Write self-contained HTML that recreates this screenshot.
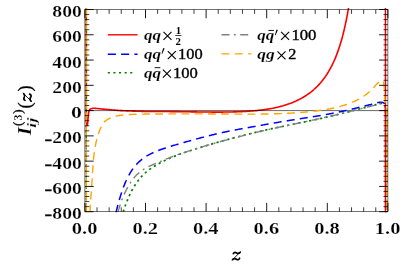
<!DOCTYPE html><html><head><meta charset="utf-8"><style>html,body{margin:0;padding:0;background:#fff}svg{display:block;will-change:transform}</style></head><body><svg width="407" height="269" viewBox="0 0 407 269">
<rect width="407" height="269" fill="#fff"/>
<defs><clipPath id="c"><rect x="84.30000000000001" y="8.1" width="304.2" height="204.2"/></clipPath></defs>
<g clip-path="url(#c)" fill="none" stroke-linejoin="round">
<path d="M86.30,4.00 L86.30,4.80 L86.30,5.60 L86.30,6.40 L86.30,7.20 L86.30,7.99 L86.30,8.79 L86.30,9.59 L86.30,10.39 L86.30,11.19 L86.30,11.99 L86.30,12.79 L86.30,13.59 L86.30,14.38 L86.30,15.18 L86.30,15.98 L86.30,16.78 L86.30,17.58 L86.30,18.38 L86.30,19.18 L86.30,19.98 L86.30,20.77 L86.30,21.57 L86.30,22.37 L86.30,23.17 L86.30,23.97 L86.30,24.77 L86.30,25.57 L86.30,26.37 L86.30,27.16 L86.30,27.96 L86.30,28.76 L86.30,29.56 L86.30,30.36 L86.30,31.16 L86.30,31.96 L86.30,32.76 L86.30,33.55 L86.30,34.35 L86.30,35.15 L86.30,35.95 L86.30,36.75 L86.30,37.55 L86.30,38.35 L86.30,39.15 L86.30,39.94 L86.30,40.74 L86.30,41.54 L86.30,42.34 L86.30,43.14 L86.30,43.94 L86.30,44.74 L86.30,45.54 L86.30,46.34 L86.30,47.13 L86.30,47.93 L86.30,48.73 L86.30,49.53 L86.30,50.33 L86.30,51.13 L86.30,51.93 L86.30,52.73 L86.30,53.52 L86.30,54.32 L86.30,55.12 L86.30,55.92 L86.30,56.72 L86.30,57.52 L86.30,58.32 L86.30,59.12 L86.30,59.91 L86.30,60.71 L86.30,61.51 L86.30,62.31 L86.30,63.11 L86.30,63.91 L86.30,64.71 L86.30,65.51 L86.30,66.30 L86.30,67.10 L86.30,67.90 L86.30,68.70 L86.30,69.50 L86.30,70.30 L86.30,71.10 L86.30,71.90 L86.30,72.69 L86.30,73.49 L86.30,74.29 L86.30,75.09 L86.30,75.89 L86.30,76.69 L86.30,77.49 L86.30,78.29 L86.30,79.08 L86.30,79.88 L86.30,80.68 L86.30,81.48 L86.30,82.28 L86.30,83.08 L86.30,83.88 L86.30,84.68 L86.30,85.48 L86.30,86.27 L86.30,87.07 L86.30,87.87 L86.30,88.67 L86.30,89.47 L86.30,90.27 L86.30,91.07 L86.30,91.87 L86.30,92.66 L86.30,93.46 L86.30,94.26 L86.30,95.06 L86.30,95.86 L86.30,96.66 L86.30,97.46 L86.30,98.26 L86.30,99.05 L86.30,99.85 L86.30,100.65 L86.30,101.45 L86.30,102.25 L86.30,103.05 L86.30,103.85 L86.30,104.65 L86.30,105.44 L86.30,106.24 L86.30,107.04 L86.30,107.84 L86.30,108.64 L86.30,109.44 L86.30,110.24 L86.30,111.04 L86.30,111.83 L86.30,112.63 L86.31,113.43 L86.31,114.23 L86.32,115.03 L86.32,115.83 L86.33,116.63 L86.33,117.43 L86.34,118.22 L86.35,119.02 L86.37,119.82 L86.40,120.62 L86.44,121.42 L86.49,122.22 L86.55,123.01 L86.62,123.97 L86.73,124.97 L86.89,125.56 L87.32,125.17 L87.52,124.43 L87.62,123.64 L87.68,122.81 L87.75,122.00 L87.82,121.20 L87.88,120.41 L87.95,119.61 L88.02,118.81 L88.09,118.02 L88.17,117.22 L88.26,116.43 L88.33,115.64 L88.40,114.84 L88.48,114.04 L88.57,113.25 L88.69,112.45 L88.85,111.65 L89.06,110.88 L89.36,110.17 L89.87,109.48 L90.49,109.01 L91.17,108.75 L91.95,108.53 L92.78,108.38 L93.61,108.30 L94.40,108.31 L95.19,108.34 L95.99,108.40 L96.78,108.47 L97.58,108.56 L98.38,108.64 L99.18,108.72 L99.98,108.80 L100.77,108.87 L101.57,108.94 L102.36,109.01 L103.16,109.08 L103.95,109.15 L104.75,109.22 L105.55,109.30 L106.34,109.37 L107.14,109.44 L107.93,109.51 L108.73,109.59 L109.52,109.66 L110.32,109.73 L111.11,109.80 L111.91,109.87 L112.71,109.95 L113.50,110.02 L114.30,110.10 L115.09,110.17 L115.89,110.24 L116.68,110.31 L117.48,110.37 L118.28,110.43 L119.07,110.49 L119.87,110.53 L120.67,110.58 L121.46,110.62 L122.26,110.67 L123.06,110.71 L123.86,110.75 L124.66,110.78 L125.45,110.82 L126.25,110.85 L127.05,110.89 L127.85,110.92 L128.65,110.95 L129.44,110.98 L130.24,111.01 L131.04,111.04 L131.84,111.06 L132.64,111.09 L133.44,111.12 L134.23,111.14 L135.03,111.16 L135.83,111.19 L136.63,111.21 L137.43,111.23 L138.23,111.25 L139.03,111.27 L139.82,111.30 L140.62,111.32 L141.42,111.34 L142.22,111.36 L143.02,111.39 L143.82,111.41 L144.62,111.43 L145.41,111.46 L146.21,111.48 L147.01,111.49 L147.81,111.51 L148.61,111.52 L149.41,111.52 L150.21,111.52 L151.00,111.52 L151.80,111.52 L152.60,111.51 L153.40,111.51 L154.20,111.51 L155.00,111.51 L155.80,111.51 L156.60,111.51 L157.39,111.51 L158.19,111.51 L158.99,111.51 L159.79,111.51 L160.59,111.52 L161.39,111.52 L162.19,111.52 L162.99,111.53 L163.78,111.53 L164.58,111.53 L165.38,111.54 L166.18,111.54 L166.98,111.55 L167.78,111.56 L168.58,111.56 L169.38,111.57 L170.17,111.58 L170.97,111.58 L171.77,111.59 L172.57,111.60 L173.37,111.61 L174.17,111.62 L174.97,111.62 L175.77,111.63 L176.56,111.64 L177.36,111.65 L178.16,111.66 L178.96,111.67 L179.76,111.68 L180.56,111.69 L181.36,111.70 L182.16,111.71 L182.95,111.72 L183.75,111.74 L184.55,111.75 L185.35,111.76 L186.15,111.77 L186.95,111.78 L187.75,111.79 L188.54,111.80 L189.34,111.81 L190.14,111.82 L190.94,111.84 L191.74,111.85 L192.54,111.86 L193.34,111.87 L194.14,111.88 L194.93,111.89 L195.73,111.90 L196.53,111.91 L197.33,111.93 L198.13,111.94 L198.93,111.95 L199.73,111.96 L200.53,111.97 L201.32,111.98 L202.12,111.99 L202.92,112.00 L203.72,112.00 L204.52,112.01 L205.32,112.02 L206.12,112.03 L206.92,112.04 L207.71,112.05 L208.51,112.05 L209.31,112.06 L210.11,112.06 L210.91,112.07 L211.71,112.08 L212.51,112.08 L213.31,112.08 L214.10,112.09 L214.90,112.09 L215.70,112.09 L216.50,112.09 L217.30,112.09 L218.10,112.09 L218.90,112.09 L219.70,112.09 L220.49,112.09 L221.29,112.09 L222.09,112.08 L222.89,112.08 L223.69,112.07 L224.49,112.07 L225.29,112.06 L226.09,112.05 L226.88,112.04 L227.68,112.03 L228.48,112.02 L229.28,112.00 L230.08,111.99 L230.88,111.97 L231.68,111.96 L232.47,111.94 L233.27,111.92 L234.07,111.90 L234.87,111.88 L235.67,111.85 L236.47,111.83 L237.27,111.80 L238.06,111.77 L238.86,111.74 L239.66,111.71 L240.46,111.68 L241.26,111.64 L242.05,111.61 L242.85,111.57 L243.65,111.53 L244.45,111.49 L245.24,111.44 L246.04,111.40 L246.84,111.35 L247.64,111.30 L248.43,111.24 L249.23,111.19 L250.03,111.13 L250.82,111.07 L251.62,111.01 L252.42,110.95 L253.21,110.88 L254.01,110.81 L254.80,110.74 L255.60,110.66 L256.39,110.58 L257.19,110.50 L257.98,110.42 L258.78,110.33 L259.57,110.24 L260.36,110.15 L261.16,110.06 L261.95,109.96 L262.74,109.85 L263.53,109.75 L264.32,109.64 L265.12,109.53 L265.91,109.41 L266.70,109.29 L267.48,109.16 L268.27,109.04 L269.06,108.90 L269.85,108.77 L270.63,108.63 L271.42,108.48 L272.20,108.34 L272.99,108.18 L273.77,108.03 L274.55,107.86 L275.34,107.70 L276.12,107.53 L276.89,107.35 L277.67,107.17 L278.45,106.98 L279.23,106.79 L280.00,106.60 L280.77,106.39 L281.54,106.19 L282.31,105.97 L283.08,105.76 L283.85,105.53 L284.61,105.30 L285.38,105.07 L286.14,104.83 L286.90,104.58 L287.66,104.33 L288.41,104.07 L289.17,103.80 L289.92,103.53 L290.66,103.25 L291.41,102.97 L292.15,102.67 L292.90,102.38 L293.63,102.07 L294.37,101.76 L295.10,101.44 L295.83,101.11 L296.56,100.78 L297.28,100.44 L298.00,100.09 L298.71,99.74 L299.43,99.37 L300.13,99.01 L300.84,98.63 L301.54,98.24 L302.23,97.85 L302.93,97.45 L303.61,97.05 L304.30,96.63 L304.98,96.21 L305.65,95.78 L306.32,95.34 L306.98,94.90 L307.64,94.45 L308.29,93.99 L308.94,93.52 L309.58,93.04 L310.22,92.56 L310.85,92.07 L311.48,91.58 L312.10,91.07 L312.71,90.56 L313.32,90.04 L313.92,89.52 L314.51,88.98 L315.10,88.44 L315.69,87.90 L316.26,87.34 L316.83,86.78 L317.40,86.22 L317.95,85.64 L318.50,85.07 L319.05,84.48 L319.58,83.89 L320.11,83.29 L320.64,82.69 L321.15,82.08 L321.66,81.46 L322.17,80.84 L322.66,80.22 L323.15,79.59 L323.64,78.95 L324.11,78.31 L324.58,77.67 L325.05,77.01 L325.51,76.36 L325.96,75.70 L326.40,75.04 L326.84,74.37 L327.27,73.70 L327.70,73.02 L328.11,72.34 L328.53,71.66 L328.93,70.97 L329.33,70.28 L329.73,69.58 L330.12,68.88 L330.50,68.18 L330.88,67.48 L331.25,66.77 L331.62,66.06 L331.98,65.35 L332.33,64.63 L332.68,63.92 L333.03,63.20 L333.37,62.47 L333.70,61.75 L334.03,61.02 L334.35,60.29 L334.67,59.56 L334.99,58.82 L335.30,58.09 L335.61,57.35 L335.91,56.61 L336.20,55.87 L336.49,55.12 L336.78,54.38 L337.07,53.63 L337.35,52.88 L337.62,52.13 L337.89,51.38 L338.16,50.63 L338.42,49.88 L338.68,49.12 L338.94,48.36 L339.19,47.61 L339.44,46.85 L339.69,46.09 L339.93,45.32 L340.17,44.56 L340.40,43.80 L340.63,43.03 L340.86,42.27 L341.09,41.50 L341.31,40.74 L341.53,39.97 L341.75,39.20 L341.96,38.43 L342.17,37.66 L342.38,36.89 L342.58,36.12 L342.79,35.34 L342.99,34.57 L343.18,33.79 L343.38,33.02 L343.57,32.24 L343.76,31.47 L343.95,30.69 L344.13,29.92 L344.31,29.14 L344.49,28.36 L344.67,27.58 L344.85,26.80 L345.02,26.02 L345.20,25.24 L345.36,24.46 L345.53,23.68 L345.70,22.90 L345.86,22.12 L346.02,21.33 L346.18,20.55 L346.34,19.77 L346.50,18.99 L346.65,18.20 L346.80,17.42 L346.95,16.63 L347.10,15.85 L347.25,15.06 L347.40,14.28 L347.54,13.49 L347.68,12.71 L347.82,11.92 L347.96,11.13 L348.10,10.35 L348.24,9.56 L348.37,8.77 L348.50,7.99 L348.64,7.20 L348.77,6.41 L348.90,5.62 L349.03,4.83 L349.15,4.04 L349.28,3.26 L349.40,2.47 L349.53,1.68 L349.65,0.89 L349.77,0.10 L349.88,-0.69 L350.00,-1.48" stroke="#ff0000" stroke-width="1.6"/>
<path d="M84.9,110.60H387.9" stroke="#000" stroke-width="0.6"/>
<path d="M115.59,214.45 L115.77,213.67 L115.95,212.89 L116.13,212.12 L116.32,211.34 L116.50,210.56 L116.69,209.79 L116.88,209.01 L117.07,208.24 L117.27,207.46 L117.47,206.69 L117.66,205.91 L117.87,205.14 L118.07,204.37 L118.28,203.60 L118.48,202.82 L118.69,202.05 L118.91,201.28 L119.12,200.52 L119.34,199.75 L119.57,198.98 L119.79,198.21 L120.02,197.45 L120.25,196.68 L120.48,195.92 L120.72,195.16 L120.96,194.40 L121.21,193.64 L121.46,192.88 L121.71,192.12 L121.97,191.36 L122.23,190.61 L122.49,189.85 L122.76,189.10 L123.03,188.35 L123.31,187.60 L123.59,186.85 L123.88,186.11 L124.17,185.36 L124.47,184.62 L124.77,183.88 L125.08,183.15 L125.39,182.41 L125.71,181.68 L126.04,180.95 L126.37,180.22 L126.71,179.50 L127.05,178.78 L127.40,178.06 L127.76,177.35 L128.13,176.64 L128.50,175.93 L128.88,175.23 L129.27,174.53 L129.66,173.83 L130.07,173.15 L130.48,172.46 L130.90,171.78 L131.33,171.11 L131.77,170.44 L132.22,169.78 L132.68,169.13 L133.15,168.48 L133.62,167.84 L134.11,167.21 L134.61,166.58 L135.12,165.96 L135.63,165.35 L136.16,164.75 L136.70,164.16 L137.25,163.58 L137.80,163.01 L138.37,162.45 L138.95,161.90 L139.54,161.36 L140.13,160.83 L140.74,160.31 L141.36,159.80 L141.98,159.30 L142.61,158.81 L143.26,158.34 L143.91,157.87 L144.56,157.42 L145.23,156.98 L145.90,156.54 L146.58,156.12 L147.27,155.71 L147.96,155.31 L148.65,154.92 L149.36,154.54 L150.06,154.17 L150.77,153.81 L151.49,153.45 L152.21,153.11 L152.94,152.77 L153.66,152.44 L154.39,152.12 L155.13,151.80 L155.86,151.49 L156.60,151.19 L157.35,150.89 L158.09,150.60 L158.84,150.32 L159.58,150.04 L160.33,149.76 L161.08,149.49 L161.84,149.22 L162.59,148.96 L163.35,148.70 L164.10,148.44 L164.86,148.19 L165.62,147.94 L166.38,147.69 L167.14,147.44 L167.90,147.20 L168.66,146.96 L169.42,146.72 L170.19,146.48 L170.95,146.25 L171.71,146.02 L172.48,145.78 L173.24,145.55 L174.01,145.32 L174.77,145.10 L175.54,144.87 L176.31,144.64 L177.07,144.42 L177.84,144.20 L178.61,143.97 L179.37,143.75 L180.14,143.53 L180.91,143.31 L181.68,143.09 L182.45,142.87 L183.21,142.65 L183.98,142.43 L184.75,142.22 L185.52,142.00 L186.29,141.78 L187.06,141.57 L187.83,141.35 L188.60,141.14 L189.37,140.92 L190.14,140.71 L190.91,140.50 L191.68,140.29 L192.45,140.07 L193.22,139.86 L193.99,139.65 L194.76,139.44 L195.53,139.23 L196.30,139.02 L197.07,138.82 L197.84,138.61 L198.61,138.40 L199.39,138.20 L200.16,137.99 L200.93,137.79 L201.70,137.58 L202.47,137.38 L203.25,137.18 L204.02,136.98 L204.79,136.78 L205.57,136.58 L206.34,136.38 L207.12,136.18 L207.89,135.99 L208.66,135.79 L209.44,135.60 L210.22,135.41 L210.99,135.21 L211.77,135.02 L212.54,134.83 L213.32,134.65 L214.10,134.46 L214.87,134.28 L215.65,134.09 L216.43,133.91 L217.21,133.73 L217.98,133.55 L218.76,133.37 L219.54,133.19 L220.32,133.02 L221.10,132.84 L221.88,132.67 L222.66,132.50 L223.44,132.33 L224.22,132.16 L225.00,132.00 L225.79,131.83 L226.57,131.67 L227.35,131.50 L228.13,131.34 L228.91,131.18 L229.70,131.03 L230.48,130.87 L231.26,130.71 L232.05,130.56 L232.83,130.41 L233.62,130.25 L234.40,130.10 L235.19,129.95 L235.97,129.81 L236.76,129.66 L237.54,129.51 L238.33,129.37 L239.11,129.22 L239.90,129.08 L240.68,128.93 L241.47,128.79 L242.26,128.65 L243.04,128.51 L243.83,128.37 L244.61,128.23 L245.40,128.09 L246.19,127.95 L246.97,127.81 L247.76,127.67 L248.55,127.53 L249.33,127.39 L250.12,127.25 L250.91,127.11 L251.69,126.97 L252.48,126.83 L253.27,126.70 L254.05,126.56 L254.84,126.42 L255.63,126.28 L256.41,126.14 L257.20,126.00 L257.99,125.86 L258.77,125.72 L259.56,125.58 L260.35,125.44 L261.13,125.30 L261.92,125.16 L262.71,125.02 L263.49,124.88 L264.28,124.74 L265.07,124.60 L265.85,124.46 L266.64,124.32 L267.42,124.18 L268.21,124.05 L269.00,123.91 L269.78,123.77 L270.57,123.63 L271.36,123.49 L272.14,123.35 L272.93,123.21 L273.72,123.07 L274.51,122.94 L275.29,122.80 L276.08,122.66 L276.87,122.53 L277.65,122.39 L278.44,122.26 L279.23,122.12 L280.02,121.99 L280.80,121.86 L281.59,121.72 L282.38,121.59 L283.17,121.46 L283.96,121.33 L284.74,121.20 L285.53,121.07 L286.32,120.94 L287.11,120.81 L287.90,120.68 L288.69,120.56 L289.47,120.43 L290.26,120.30 L291.05,120.18 L291.84,120.05 L292.63,119.93 L293.42,119.80 L294.21,119.68 L295.00,119.55 L295.79,119.43 L296.58,119.31 L297.36,119.19 L298.15,119.06 L298.94,118.94 L299.73,118.82 L300.52,118.70 L301.31,118.57 L302.10,118.45 L302.89,118.33 L303.68,118.21 L304.47,118.08 L305.26,117.96 L306.05,117.84 L306.84,117.72 L307.63,117.59 L308.42,117.47 L309.20,117.34 L309.99,117.22 L310.78,117.10 L311.57,116.97 L312.36,116.84 L313.15,116.72 L313.94,116.59 L314.73,116.46 L315.51,116.33 L316.30,116.20 L317.09,116.07 L317.88,115.94 L318.67,115.81 L319.45,115.68 L320.24,115.55 L321.03,115.41 L321.82,115.28 L322.60,115.14 L323.39,115.00 L324.18,114.86 L324.96,114.72 L325.75,114.58 L326.54,114.44 L327.32,114.30 L328.11,114.15 L328.89,114.01 L329.68,113.86 L330.46,113.72 L331.25,113.57 L332.03,113.42 L332.82,113.26 L333.60,113.11 L334.39,112.96 L335.17,112.80 L335.95,112.64 L336.74,112.49 L337.52,112.33 L338.30,112.17 L339.08,112.00 L339.86,111.84 L340.65,111.67 L341.43,111.51 L342.21,111.34 L342.99,111.17 L343.77,111.00 L344.55,110.83 L345.33,110.65 L346.11,110.48 L346.89,110.30 L347.67,110.12 L348.44,109.95 L349.22,109.77 L350.00,109.58 L350.78,109.40 L351.56,109.22 L352.33,109.03 L353.11,108.85 L353.89,108.66 L354.66,108.47 L355.44,108.28 L356.21,108.09 L356.99,107.90 L357.77,107.71 L358.54,107.51 L359.32,107.32 L360.09,107.13 L360.87,106.93 L361.64,106.74 L362.42,106.54 L363.19,106.35 L363.97,106.16 L364.74,105.96 L365.52,105.77 L366.29,105.58 L367.07,105.39 L367.84,105.20 L368.62,105.01 L369.40,104.83 L370.18,104.65 L370.95,104.46 L371.72,104.24 L372.49,104.01 L373.25,103.76 L374.01,103.52 L374.78,103.28 L375.55,103.06 L376.32,102.87 L377.10,102.70 L377.88,102.55 L378.67,102.39 L379.46,102.27 L380.26,102.20 L381.06,102.22 L381.87,102.33 L382.65,102.50 L383.38,102.76 L384.07,103.24 L384.51,103.83 L384.84,104.57 L385.09,105.37 L385.22,106.17 L385.31,106.95 L385.39,107.74 L385.46,108.54 L385.51,109.34 L385.56,110.14 L385.58,110.95 L385.60,111.75 L385.60,112.55 L385.60,113.35 L385.61,114.14 L385.61,114.94 L385.61,115.74 L385.61,116.54 L385.61,117.34 L385.62,118.13 L385.62,118.93 L385.62,119.73 L385.62,120.53 L385.62,121.32 L385.63,122.12 L385.63,122.92 L385.63,123.72 L385.63,124.52 L385.63,125.31 L385.63,126.11 L385.64,126.91 L385.64,127.71 L385.64,128.51 L385.64,129.30 L385.64,130.10 L385.64,130.90 L385.64,131.70 L385.65,132.50 L385.65,133.29 L385.65,134.09 L385.65,134.89 L385.65,135.69 L385.65,136.49 L385.65,137.28 L385.66,138.08 L385.66,138.88 L385.66,139.68 L385.66,140.48 L385.66,141.27 L385.66,142.07 L385.66,142.87 L385.66,143.67 L385.66,144.47 L385.67,145.26 L385.67,146.06 L385.67,146.86 L385.67,147.66 L385.67,148.46 L385.67,149.26 L385.67,150.05 L385.67,150.85 L385.67,151.65 L385.67,152.45 L385.68,153.25 L385.68,154.05 L385.68,154.85 L385.68,155.64 L385.68,156.44 L385.68,157.24 L385.68,158.04 L385.68,158.84 L385.68,159.64 L385.68,160.43 L385.68,161.23 L385.68,162.03 L385.68,162.83 L385.69,163.63 L385.69,164.43 L385.69,165.23 L385.69,166.03 L385.69,166.82 L385.69,167.62 L385.69,168.42 L385.69,169.22 L385.69,170.02 L385.69,170.82 L385.69,171.62 L385.69,172.42 L385.69,173.22 L385.69,174.01 L385.69,174.81 L385.69,175.61 L385.69,176.41 L385.69,177.21 L385.69,178.01 L385.69,178.81 L385.69,179.61 L385.69,180.41 L385.70,181.21 L385.70,182.01 L385.70,182.81 L385.70,183.60 L385.70,184.40 L385.70,185.20 L385.70,186.00 L385.70,186.80 L385.70,187.60 L385.70,188.40 L385.70,189.20 L385.70,190.00 L385.70,190.80 L385.70,191.60 L385.70,192.40 L385.70,193.20 L385.70,194.00 L385.70,194.80 L385.70,195.60 L385.70,196.40 L385.70,197.20 L385.70,198.00 L385.70,198.80 L385.70,199.60 L385.70,200.40 L385.70,201.20 L385.70,202.00 L385.70,202.80 L385.70,203.60 L385.70,204.40 L385.70,205.20 L385.70,206.00 L385.70,206.80 L385.70,207.60 L385.70,208.40 L385.70,209.20 L385.70,210.00 L385.70,210.80 L385.70,211.60 L385.70,212.40 L385.70,213.20 L385.70,214.00" stroke="#0000ff" stroke-width="1.5" stroke-dasharray="8.0 5.2" stroke-dashoffset="11.5"/>
<path d="M122.46,214.41 L122.69,213.64 L122.93,212.88 L123.17,212.12 L123.41,211.36 L123.65,210.60 L123.90,209.84 L124.15,209.08 L124.41,208.32 L124.66,207.56 L124.93,206.81 L125.19,206.05 L125.46,205.30 L125.73,204.55 L126.01,203.80 L126.29,203.05 L126.57,202.31 L126.86,201.56 L127.16,200.82 L127.45,200.08 L127.76,199.34 L128.07,198.60 L128.38,197.86 L128.70,197.13 L129.02,196.40 L129.35,195.67 L129.68,194.95 L130.02,194.22 L130.37,193.50 L130.72,192.78 L131.08,192.07 L131.44,191.36 L131.81,190.65 L132.19,189.94 L132.57,189.24 L132.96,188.55 L133.36,187.85 L133.76,187.16 L134.18,186.48 L134.60,185.80 L135.02,185.12 L135.46,184.45 L135.90,183.79 L136.35,183.13 L136.81,182.47 L137.27,181.82 L137.75,181.18 L138.23,180.54 L138.72,179.91 L139.22,179.29 L139.73,178.67 L140.25,178.06 L140.77,177.46 L141.31,176.87 L141.85,176.28 L142.40,175.70 L142.96,175.13 L143.52,174.56 L144.10,174.01 L144.68,173.46 L145.27,172.92 L145.87,172.39 L146.47,171.87 L147.08,171.35 L147.70,170.85 L148.33,170.35 L148.96,169.86 L149.60,169.38 L150.24,168.91 L150.89,168.45 L151.55,167.99 L152.21,167.54 L152.87,167.09 L153.54,166.66 L154.22,166.23 L154.90,165.81 L155.58,165.40 L156.27,164.99 L156.96,164.59 L157.66,164.19 L158.35,163.81 L159.06,163.42 L159.76,163.05 L160.47,162.68 L161.18,162.31 L161.89,161.95 L162.61,161.59 L163.33,161.24 L164.05,160.90 L164.77,160.55 L165.49,160.21 L166.22,159.88 L166.94,159.55 L167.67,159.22 L168.40,158.90 L169.13,158.57 L169.87,158.26 L170.60,157.94 L171.34,157.63 L172.07,157.32 L172.81,157.01 L173.55,156.70 L174.29,156.40 L175.03,156.10 L175.77,155.80 L176.51,155.50 L177.25,155.20 L178.00,154.91 L178.74,154.61 L179.48,154.33 L180.23,154.05 L180.99,153.78 L181.74,153.52 L182.50,153.26 L183.25,153.01 L184.01,152.75 L184.77,152.50 L185.53,152.24 L186.29,151.99 L187.04,151.74 L187.80,151.49 L188.56,151.24 L189.32,150.99 L190.08,150.74 L190.84,150.49 L191.60,150.25 L192.36,150.00 L193.12,149.76 L193.88,149.51 L194.64,149.27 L195.40,149.03 L196.17,148.78 L196.93,148.54 L197.69,148.30 L198.45,148.06 L199.21,147.82 L199.98,147.58 L200.74,147.35 L201.50,147.11 L202.27,146.87 L203.03,146.64 L203.79,146.40 L204.56,146.17 L205.32,145.94 L206.09,145.70 L206.85,145.47 L207.62,145.24 L208.38,145.01 L209.15,144.78 L209.91,144.55 L210.68,144.32 L211.45,144.10 L212.21,143.87 L212.98,143.64 L213.75,143.42 L214.51,143.20 L215.28,142.97 L216.05,142.75 L216.81,142.53 L217.58,142.31 L218.35,142.09 L219.12,141.87 L219.89,141.65 L220.66,141.43 L221.43,141.22 L222.20,141.00 L222.97,140.79 L223.74,140.57 L224.51,140.36 L225.28,140.15 L226.05,139.94 L226.82,139.73 L227.59,139.52 L228.36,139.31 L229.13,139.10 L229.91,138.90 L230.68,138.69 L231.45,138.49 L232.22,138.29 L233.00,138.08 L233.77,137.88 L234.54,137.68 L235.32,137.48 L236.09,137.28 L236.87,137.09 L237.64,136.89 L238.42,136.70 L239.19,136.50 L239.96,136.30 L240.74,136.10 L241.51,135.90 L242.28,135.70 L243.06,135.50 L243.83,135.30 L244.60,135.10 L245.38,134.90 L246.15,134.70 L246.93,134.50 L247.70,134.31 L248.48,134.11 L249.25,133.92 L250.03,133.73 L250.80,133.54 L251.58,133.35 L252.36,133.16 L253.13,132.97 L253.91,132.78 L254.69,132.59 L255.46,132.41 L256.24,132.22 L257.02,132.04 L257.80,131.85 L258.57,131.67 L259.35,131.49 L260.13,131.31 L260.91,131.13 L261.69,130.95 L262.47,130.77 L263.25,130.59 L264.03,130.41 L264.80,130.24 L265.58,130.06 L266.36,129.89 L267.14,129.71 L267.92,129.54 L268.70,129.37 L269.49,129.20 L270.27,129.03 L271.05,128.86 L271.83,128.69 L272.61,128.52 L273.39,128.35 L274.17,128.18 L274.95,128.01 L275.73,127.85 L276.52,127.68 L277.30,127.52 L278.08,127.35 L278.86,127.19 L279.64,127.02 L280.43,126.86 L281.21,126.69 L281.99,126.53 L282.77,126.37 L283.55,126.21 L284.34,126.05 L285.12,125.88 L285.90,125.72 L286.69,125.56 L287.47,125.40 L288.25,125.24 L289.03,125.08 L289.82,124.92 L290.60,124.76 L291.38,124.60 L292.17,124.44 L292.95,124.29 L293.73,124.13 L294.52,123.97 L295.30,123.81 L296.08,123.65 L296.87,123.49 L297.65,123.33 L298.43,123.17 L299.21,123.02 L300.00,122.86 L300.78,122.69 L301.56,122.53 L302.35,122.37 L303.13,122.21 L303.91,122.05 L304.69,121.89 L305.48,121.72 L306.26,121.56 L307.04,121.40 L307.82,121.24 L308.61,121.07 L309.39,120.91 L310.17,120.74 L310.95,120.58 L311.73,120.42 L312.52,120.25 L313.30,120.08 L314.08,119.92 L314.86,119.75 L315.64,119.58 L316.42,119.42 L317.20,119.25 L317.99,119.08 L318.77,118.91 L319.55,118.74 L320.33,118.57 L321.11,118.40 L321.89,118.23 L322.67,118.05 L323.45,117.88 L324.23,117.71 L325.01,117.53 L325.79,117.36 L326.57,117.18 L327.35,117.00 L328.13,116.82 L328.90,116.65 L329.68,116.47 L330.46,116.29 L331.24,116.10 L332.02,115.92 L332.80,115.74 L333.57,115.56 L334.35,115.37 L335.13,115.19 L335.91,115.00 L336.68,114.81 L337.46,114.62 L338.24,114.44 L339.01,114.25 L339.79,114.05 L340.56,113.86 L341.34,113.67 L342.11,113.48 L342.89,113.28 L343.66,113.09 L344.44,112.89 L345.21,112.69 L345.99,112.50 L346.76,112.30 L347.54,112.10 L348.31,111.90 L349.08,111.70 L349.86,111.50 L350.63,111.29 L351.40,111.09 L352.18,110.89 L352.95,110.68 L353.72,110.48 L354.49,110.28 L355.27,110.07 L356.04,109.87 L356.81,109.66 L357.58,109.45 L358.35,109.25 L359.13,109.04 L359.90,108.84 L360.67,108.63 L361.44,108.43 L362.22,108.22 L362.99,108.02 L363.76,107.82 L364.54,107.62 L365.31,107.42 L366.08,107.22 L366.86,107.02 L367.63,106.83 L368.41,106.64 L369.19,106.45 L369.96,106.27 L370.74,106.09 L371.52,105.92 L372.31,105.76 L373.09,105.59 L373.86,105.38 L374.62,105.14 L375.38,104.88 L376.14,104.62 L376.90,104.37 L377.66,104.13 L378.43,103.93 L379.21,103.76 L380.00,103.59 L380.79,103.45 L381.58,103.40 L382.40,103.49 L383.19,103.69 L383.85,104.02 L384.42,104.66 L384.74,105.35 L384.97,106.11 L385.15,106.91 L385.27,107.73 L385.34,108.52 L385.41,109.31 L385.46,110.11 L385.51,110.91 L385.55,111.71 L385.58,112.51 L385.59,113.31 L385.60,114.11 L385.60,114.91 L385.60,115.71 L385.61,116.51 L385.61,117.31 L385.61,118.10 L385.61,118.90 L385.61,119.70 L385.62,120.50 L385.62,121.30 L385.62,122.10 L385.62,122.89 L385.62,123.69 L385.63,124.49 L385.63,125.29 L385.63,126.09 L385.63,126.89 L385.63,127.69 L385.63,128.48 L385.64,129.28 L385.64,130.08 L385.64,130.88 L385.64,131.68 L385.64,132.48 L385.64,133.28 L385.65,134.08 L385.65,134.87 L385.65,135.67 L385.65,136.47 L385.65,137.27 L385.65,138.07 L385.65,138.87 L385.66,139.67 L385.66,140.46 L385.66,141.26 L385.66,142.06 L385.66,142.86 L385.66,143.66 L385.66,144.46 L385.66,145.26 L385.66,146.06 L385.67,146.85 L385.67,147.65 L385.67,148.45 L385.67,149.25 L385.67,150.05 L385.67,150.85 L385.67,151.65 L385.67,152.45 L385.67,153.25 L385.67,154.04 L385.68,154.84 L385.68,155.64 L385.68,156.44 L385.68,157.24 L385.68,158.04 L385.68,158.84 L385.68,159.64 L385.68,160.44 L385.68,161.23 L385.68,162.03 L385.68,162.83 L385.68,163.63 L385.68,164.43 L385.69,165.23 L385.69,166.03 L385.69,166.83 L385.69,167.63 L385.69,168.43 L385.69,169.22 L385.69,170.02 L385.69,170.82 L385.69,171.62 L385.69,172.42 L385.69,173.22 L385.69,174.02 L385.69,174.82 L385.69,175.62 L385.69,176.42 L385.69,177.22 L385.69,178.02 L385.69,178.82 L385.69,179.61 L385.69,180.41 L385.69,181.21 L385.69,182.01 L385.70,182.81 L385.70,183.61 L385.70,184.41 L385.70,185.21 L385.70,186.01 L385.70,186.81 L385.70,187.61 L385.70,188.41 L385.70,189.21 L385.70,190.01 L385.70,190.81 L385.70,191.61 L385.70,192.41 L385.70,193.21 L385.70,194.00 L385.70,194.80 L385.70,195.60 L385.70,196.40 L385.70,197.20 L385.70,198.00 L385.70,198.80 L385.70,199.60 L385.70,200.40 L385.70,201.20 L385.70,202.00 L385.70,202.80 L385.70,203.60 L385.70,204.40 L385.70,205.20 L385.70,206.00 L385.70,206.80 L385.70,207.60 L385.70,208.40 L385.70,209.20 L385.70,210.00 L385.70,210.80 L385.70,211.60 L385.70,212.40 L385.70,213.20 L385.70,214.00" stroke="#008000" stroke-width="1.7" stroke-dasharray="2.2 3.4" stroke-dashoffset="2.9"/>
<path d="M117.37,214.23 L117.58,213.46 L117.79,212.69 L118.01,211.92 L118.23,211.15 L118.45,210.38 L118.68,209.62 L118.91,208.85 L119.14,208.09 L119.38,207.32 L119.62,206.56 L119.87,205.80 L120.12,205.04 L120.37,204.28 L120.63,203.53 L120.89,202.77 L121.16,202.02 L121.43,201.26 L121.70,200.51 L121.98,199.76 L122.27,199.02 L122.56,198.27 L122.86,197.53 L123.16,196.79 L123.46,196.05 L123.77,195.31 L124.09,194.58 L124.42,193.85 L124.75,193.12 L125.08,192.39 L125.42,191.67 L125.77,190.95 L126.12,190.23 L126.48,189.52 L126.84,188.81 L127.22,188.10 L127.60,187.39 L127.99,186.70 L128.38,186.00 L128.78,185.31 L129.19,184.62 L129.61,183.94 L130.04,183.27 L130.48,182.60 L130.92,181.93 L131.37,181.27 L131.84,180.62 L132.31,179.98 L132.79,179.34 L133.28,178.71 L133.78,178.08 L134.30,177.47 L134.82,176.86 L135.35,176.27 L135.89,175.68 L136.45,175.10 L137.01,174.54 L137.59,173.98 L138.18,173.44 L138.77,172.91 L139.38,172.39 L140.00,171.89 L140.63,171.39 L141.27,170.91 L141.92,170.45 L142.58,170.00 L143.25,169.56 L143.93,169.13 L144.61,168.72 L145.30,168.31 L146.00,167.92 L146.70,167.54 L147.41,167.17 L148.13,166.81 L148.84,166.46 L149.56,166.11 L150.29,165.77 L151.01,165.44 L151.74,165.10 L152.47,164.78 L153.20,164.45 L153.93,164.13 L154.67,163.81 L155.40,163.50 L156.14,163.19 L156.87,162.87 L157.61,162.56 L158.35,162.26 L159.09,161.95 L159.83,161.64 L160.57,161.34 L161.31,161.03 L162.05,160.73 L162.79,160.43 L163.53,160.13 L164.27,159.83 L165.01,159.53 L165.75,159.24 L166.50,158.94 L167.24,158.65 L167.98,158.35 L168.73,158.06 L169.47,157.77 L170.22,157.48 L170.96,157.19 L171.71,156.90 L172.46,156.62 L173.20,156.33 L173.95,156.05 L174.70,155.76 L175.45,155.48 L176.19,155.20 L176.94,154.92 L177.69,154.64 L178.44,154.36 L179.19,154.08 L179.94,153.81 L180.70,153.55 L181.46,153.30 L182.22,153.06 L182.98,152.81 L183.74,152.57 L184.50,152.32 L185.26,152.08 L186.03,151.83 L186.79,151.59 L187.55,151.35 L188.31,151.10 L189.07,150.86 L189.84,150.62 L190.60,150.38 L191.36,150.14 L192.13,149.90 L192.89,149.66 L193.65,149.43 L194.42,149.19 L195.18,148.95 L195.94,148.72 L196.71,148.48 L197.47,148.25 L198.24,148.01 L199.00,147.78 L199.77,147.55 L200.53,147.31 L201.30,147.08 L202.06,146.85 L202.83,146.62 L203.59,146.39 L204.36,146.16 L205.13,145.93 L205.89,145.71 L206.66,145.48 L207.43,145.25 L208.19,145.03 L208.96,144.80 L209.73,144.58 L210.50,144.36 L211.26,144.13 L212.03,143.91 L212.80,143.69 L213.57,143.47 L214.34,143.25 L215.11,143.03 L215.88,142.81 L216.65,142.60 L217.42,142.38 L218.19,142.17 L218.96,141.95 L219.73,141.74 L220.50,141.52 L221.27,141.31 L222.04,141.10 L222.81,140.89 L223.58,140.68 L224.35,140.47 L225.13,140.26 L225.90,140.06 L226.67,139.85 L227.44,139.64 L228.22,139.44 L228.99,139.24 L229.76,139.03 L230.54,138.83 L231.31,138.63 L232.09,138.43 L232.86,138.23 L233.63,138.03 L234.41,137.84 L235.18,137.64 L235.96,137.44 L236.73,137.25 L237.51,137.05 L238.29,136.86 L239.06,136.67 L239.84,136.48 L240.61,136.28 L241.39,136.08 L242.16,135.88 L242.94,135.68 L243.71,135.48 L244.48,135.28 L245.26,135.08 L246.03,134.88 L246.81,134.69 L247.59,134.49 L248.36,134.30 L249.14,134.11 L249.91,133.91 L250.69,133.72 L251.47,133.53 L252.24,133.34 L253.02,133.15 L253.80,132.97 L254.57,132.78 L255.35,132.59 L256.13,132.40 L256.91,132.22 L257.68,132.04 L258.46,131.85 L259.24,131.67 L260.02,131.49 L260.80,131.30 L261.58,131.12 L262.36,130.94 L263.14,130.76 L263.91,130.58 L264.69,130.41 L265.47,130.23 L266.25,130.05 L267.03,129.88 L267.81,129.70 L268.59,129.52 L269.37,129.35 L270.15,129.18 L270.94,129.00 L271.72,128.83 L272.50,128.66 L273.28,128.48 L274.06,128.31 L274.84,128.14 L275.62,127.97 L276.40,127.80 L277.18,127.63 L277.97,127.46 L278.75,127.30 L279.53,127.13 L280.31,126.96 L281.09,126.79 L281.87,126.62 L282.66,126.46 L283.44,126.29 L284.22,126.12 L285.00,125.96 L285.78,125.79 L286.57,125.63 L287.35,125.46 L288.13,125.30 L288.91,125.13 L289.70,124.97 L290.48,124.81 L291.26,124.64 L292.04,124.48 L292.83,124.31 L293.61,124.15 L294.39,123.99 L295.18,123.82 L295.96,123.66 L296.74,123.50 L297.52,123.33 L298.31,123.17 L299.09,123.01 L299.87,122.84 L300.65,122.68 L301.44,122.51 L302.22,122.35 L303.00,122.18 L303.78,122.01 L304.57,121.85 L305.35,121.68 L306.13,121.51 L306.91,121.35 L307.69,121.18 L308.48,121.01 L309.26,120.85 L310.04,120.68 L310.82,120.51 L311.60,120.34 L312.38,120.18 L313.17,120.01 L313.95,119.84 L314.73,119.67 L315.51,119.50 L316.29,119.33 L317.07,119.16 L317.85,118.99 L318.64,118.82 L319.42,118.65 L320.20,118.47 L320.98,118.30 L321.76,118.13 L322.54,117.95 L323.32,117.78 L324.10,117.61 L324.88,117.43 L325.66,117.26 L326.44,117.08 L327.22,116.90 L328.00,116.73 L328.78,116.55 L329.56,116.37 L330.34,116.19 L331.12,116.01 L331.90,115.83 L332.68,115.65 L333.45,115.47 L334.23,115.29 L335.01,115.10 L335.79,114.92 L336.57,114.74 L337.35,114.55 L338.12,114.37 L338.90,114.18 L339.68,113.99 L340.46,113.81 L341.23,113.62 L342.01,113.43 L342.79,113.24 L343.56,113.05 L344.34,112.86 L345.12,112.67 L345.89,112.47 L346.67,112.28 L347.44,112.09 L348.22,111.89 L349.00,111.70 L349.77,111.50 L350.55,111.31 L351.32,111.11 L352.10,110.92 L352.87,110.72 L353.65,110.52 L354.42,110.32 L355.19,110.12 L355.97,109.92 L356.74,109.73 L357.52,109.53 L358.29,109.33 L359.07,109.13 L359.84,108.93 L360.61,108.73 L361.39,108.53 L362.16,108.33 L362.94,108.13 L363.71,107.93 L364.49,107.73 L365.26,107.53 L366.04,107.34 L366.81,107.14 L367.59,106.95 L368.36,106.76 L369.14,106.56 L369.92,106.38 L370.70,106.19 L371.47,106.01 L372.25,105.83 L373.03,105.66 L373.81,105.48 L374.58,105.26 L375.34,105.01 L376.10,104.73 L376.85,104.45 L377.61,104.18 L378.37,103.95 L379.14,103.77 L379.93,103.60 L380.72,103.46 L381.51,103.40 L382.33,103.48 L383.13,103.67 L383.80,103.97 L384.38,104.60 L384.72,105.29 L384.96,106.04 L385.14,106.85 L385.26,107.66 L385.34,108.45 L385.40,109.25 L385.46,110.04 L385.51,110.84 L385.55,111.65 L385.57,112.45 L385.59,113.25 L385.60,114.05 L385.60,114.85 L385.60,115.65 L385.61,116.45 L385.61,117.25 L385.61,118.05 L385.61,118.84 L385.61,119.64 L385.62,120.44 L385.62,121.24 L385.62,122.04 L385.62,122.84 L385.62,123.64 L385.63,124.44 L385.63,125.24 L385.63,126.04 L385.63,126.83 L385.63,127.63 L385.63,128.43 L385.64,129.23 L385.64,130.03 L385.64,130.83 L385.64,131.63 L385.64,132.43 L385.64,133.23 L385.65,134.03 L385.65,134.83 L385.65,135.62 L385.65,136.42 L385.65,137.22 L385.65,138.02 L385.65,138.82 L385.66,139.62 L385.66,140.42 L385.66,141.22 L385.66,142.02 L385.66,142.82 L385.66,143.62 L385.66,144.42 L385.66,145.21 L385.66,146.01 L385.67,146.81 L385.67,147.61 L385.67,148.41 L385.67,149.21 L385.67,150.01 L385.67,150.81 L385.67,151.61 L385.67,152.41 L385.67,153.21 L385.67,154.01 L385.68,154.81 L385.68,155.61 L385.68,156.41 L385.68,157.20 L385.68,158.00 L385.68,158.80 L385.68,159.60 L385.68,160.40 L385.68,161.20 L385.68,162.00 L385.68,162.80 L385.68,163.60 L385.68,164.40 L385.69,165.20 L385.69,166.00 L385.69,166.80 L385.69,167.60 L385.69,168.40 L385.69,169.20 L385.69,170.00 L385.69,170.80 L385.69,171.60 L385.69,172.40 L385.69,173.20 L385.69,174.00 L385.69,174.80 L385.69,175.59 L385.69,176.39 L385.69,177.19 L385.69,177.99 L385.69,178.79 L385.69,179.59 L385.69,180.39 L385.69,181.19 L385.69,181.99 L385.70,182.79 L385.70,183.59 L385.70,184.39 L385.70,185.19 L385.70,185.99 L385.70,186.79 L385.70,187.59 L385.70,188.39 L385.70,189.19 L385.70,189.99 L385.70,190.79 L385.70,191.59 L385.70,192.39 L385.70,193.19 L385.70,193.99 L385.70,194.79 L385.70,195.59 L385.70,196.39 L385.70,197.19 L385.70,197.99 L385.70,198.79 L385.70,199.59 L385.70,200.39 L385.70,201.19 L385.70,201.99 L385.70,202.79 L385.70,203.59 L385.70,204.39 L385.70,205.20 L385.70,206.00 L385.70,206.80 L385.70,207.60 L385.70,208.40 L385.70,209.20 L385.70,210.00 L385.70,210.80 L385.70,211.60 L385.70,212.40 L385.70,213.20 L385.70,214.00" stroke="#808080" stroke-width="1.4" stroke-dasharray="8.1 4.45 1.9 4.45" stroke-dashoffset="16.9"/>
<path d="M385.45,7.5V211.7" stroke="#ff0000" stroke-width="1.5"/>
<path d="M89.80,214.00 L89.85,213.20 L89.91,212.41 L89.96,211.61 L90.01,210.81 L90.06,210.01 L90.11,209.22 L90.17,208.42 L90.22,207.62 L90.27,206.83 L90.32,206.03 L90.37,205.23 L90.41,204.43 L90.47,203.64 L90.52,202.84 L90.57,202.04 L90.62,201.24 L90.67,200.45 L90.72,199.65 L90.78,198.85 L90.83,198.06 L90.89,197.26 L90.94,196.46 L91.00,195.67 L91.06,194.87 L91.11,194.07 L91.17,193.28 L91.22,192.48 L91.28,191.68 L91.34,190.88 L91.39,190.09 L91.45,189.29 L91.51,188.49 L91.56,187.70 L91.62,186.90 L91.68,186.10 L91.73,185.31 L91.79,184.51 L91.85,183.71 L91.90,182.92 L91.96,182.12 L92.01,181.32 L92.07,180.53 L92.12,179.73 L92.17,178.93 L92.22,178.13 L92.26,177.34 L92.31,176.54 L92.35,175.74 L92.40,174.94 L92.44,174.15 L92.49,173.35 L92.54,172.55 L92.59,171.75 L92.64,170.96 L92.69,170.16 L92.74,169.36 L92.80,168.57 L92.86,167.77 L92.92,166.97 L92.98,166.17 L93.04,165.38 L93.10,164.58 L93.17,163.79 L93.24,162.99 L93.30,162.19 L93.37,161.40 L93.44,160.60 L93.52,159.81 L93.59,159.01 L93.67,158.22 L93.74,157.42 L93.82,156.62 L93.90,155.83 L93.99,155.03 L94.07,154.24 L94.16,153.45 L94.26,152.65 L94.35,151.86 L94.45,151.07 L94.56,150.28 L94.68,149.49 L94.80,148.70 L94.94,147.91 L95.08,147.13 L95.24,146.34 L95.39,145.56 L95.55,144.77 L95.70,143.99 L95.87,143.21 L96.04,142.43 L96.21,141.65 L96.39,140.87 L96.58,140.09 L96.77,139.32 L96.97,138.54 L97.18,137.77 L97.40,137.00 L97.62,136.24 L97.85,135.47 L98.09,134.71 L98.34,133.95 L98.60,133.19 L98.86,132.44 L99.14,131.69 L99.42,130.94 L99.72,130.20 L100.02,129.46 L100.34,128.73 L100.67,128.00 L101.01,127.27 L101.36,126.55 L101.73,125.84 L102.12,125.15 L102.52,124.46 L102.95,123.76 L103.40,123.08 L103.89,122.45 L104.41,121.89 L104.98,121.37 L105.58,120.86 L106.23,120.38 L106.90,119.91 L107.60,119.47 L108.31,119.06 L109.03,118.67 L109.76,118.32 L110.48,118.01 L111.20,117.72 L111.93,117.44 L112.68,117.17 L113.44,116.91 L114.21,116.67 L114.99,116.44 L115.77,116.22 L116.56,116.03 L117.35,115.85 L118.13,115.69 L118.92,115.56 L119.70,115.44 L120.49,115.34 L121.28,115.23 L122.07,115.14 L122.86,115.05 L123.66,114.96 L124.45,114.88 L125.25,114.81 L126.05,114.74 L126.85,114.68 L127.65,114.63 L128.45,114.58 L129.25,114.53 L130.05,114.50 L130.85,114.47 L131.64,114.43 L132.44,114.40 L133.24,114.37 L134.04,114.34 L134.83,114.32 L135.63,114.29 L136.43,114.26 L137.23,114.24 L138.03,114.22 L138.83,114.19 L139.63,114.17 L140.42,114.15 L141.22,114.13 L142.02,114.12 L142.82,114.10 L143.62,114.08 L144.42,114.07 L145.22,114.06 L146.02,114.04 L146.82,114.03 L147.62,114.02 L148.42,114.01 L149.22,114.01 L150.01,114.00 L150.81,113.99 L151.61,113.99 L152.41,113.98 L153.21,113.98 L154.01,113.97 L154.81,113.97 L155.61,113.96 L156.40,113.96 L157.20,113.96 L158.00,113.95 L158.80,113.95 L159.60,113.94 L160.40,113.94 L161.20,113.94 L162.00,113.93 L162.79,113.93 L163.59,113.93 L164.39,113.93 L165.19,113.92 L165.99,113.92 L166.79,113.92 L167.59,113.92 L168.39,113.91 L169.19,113.91 L169.98,113.91 L170.78,113.91 L171.58,113.91 L172.38,113.90 L173.18,113.90 L173.98,113.90 L174.78,113.90 L175.58,113.90 L176.38,113.90 L177.17,113.90 L177.97,113.90 L178.77,113.90 L179.57,113.89 L180.37,113.89 L181.17,113.89 L181.97,113.89 L182.77,113.89 L183.57,113.89 L184.36,113.89 L185.16,113.89 L185.96,113.89 L186.76,113.89 L187.56,113.89 L188.36,113.89 L189.16,113.88 L189.96,113.88 L190.75,113.88 L191.55,113.88 L192.35,113.88 L193.15,113.88 L193.95,113.88 L194.75,113.88 L195.55,113.88 L196.35,113.88 L197.15,113.88 L197.94,113.88 L198.74,113.88 L199.54,113.88 L200.34,113.88 L201.14,113.89 L201.94,113.89 L202.74,113.90 L203.54,113.90 L204.34,113.91 L205.13,113.91 L205.93,113.92 L206.73,113.92 L207.53,113.93 L208.33,113.94 L209.13,113.94 L209.93,113.95 L210.73,113.95 L211.52,113.96 L212.32,113.96 L213.12,113.97 L213.92,113.98 L214.72,113.98 L215.52,113.99 L216.32,113.99 L217.12,114.00 L217.92,114.01 L218.71,114.01 L219.51,114.02 L220.31,114.02 L221.11,114.03 L221.91,114.03 L222.71,114.04 L223.51,114.05 L224.31,114.05 L225.10,114.06 L225.90,114.06 L226.70,114.07 L227.50,114.07 L228.30,114.08 L229.10,114.08 L229.90,114.09 L230.70,114.09 L231.50,114.10 L232.29,114.10 L233.09,114.10 L233.89,114.11 L234.69,114.11 L235.49,114.12 L236.29,114.12 L237.09,114.12 L237.89,114.13 L238.68,114.13 L239.48,114.13 L240.28,114.13 L241.08,114.14 L241.88,114.14 L242.68,114.14 L243.48,114.14 L244.28,114.14 L245.08,114.14 L245.87,114.14 L246.67,114.14 L247.47,114.14 L248.27,114.14 L249.07,114.14 L249.87,114.14 L250.67,114.14 L251.47,114.14 L252.27,114.14 L253.06,114.13 L253.86,114.13 L254.66,114.13 L255.46,114.12 L256.26,114.12 L257.06,114.11 L257.86,114.11 L258.66,114.10 L259.45,114.10 L260.25,114.09 L261.05,114.08 L261.85,114.07 L262.65,114.05 L263.45,114.04 L264.25,114.03 L265.05,114.01 L265.84,114.00 L266.64,113.98 L267.44,113.97 L268.24,113.95 L269.04,113.93 L269.84,113.92 L270.64,113.90 L271.44,113.88 L272.23,113.86 L273.03,113.84 L273.83,113.82 L274.63,113.79 L275.43,113.77 L276.23,113.75 L277.02,113.72 L277.82,113.69 L278.62,113.67 L279.42,113.64 L280.22,113.61 L281.02,113.58 L281.81,113.55 L282.61,113.52 L283.41,113.49 L284.21,113.46 L285.01,113.42 L285.81,113.39 L286.60,113.35 L287.40,113.31 L288.20,113.27 L289.00,113.23 L289.80,113.19 L290.59,113.15 L291.39,113.10 L292.19,113.06 L292.99,113.01 L293.78,112.97 L294.58,112.92 L295.38,112.87 L296.17,112.81 L296.97,112.76 L297.77,112.71 L298.57,112.65 L299.36,112.59 L300.16,112.53 L300.96,112.47 L301.75,112.41 L302.55,112.35 L303.34,112.28 L304.14,112.21 L304.94,112.14 L305.73,112.07 L306.53,112.00 L307.32,111.92 L308.12,111.85 L308.91,111.77 L309.71,111.69 L310.50,111.60 L311.30,111.52 L312.09,111.43 L312.88,111.34 L313.68,111.25 L314.47,111.16 L315.26,111.06 L316.06,110.96 L316.85,110.86 L317.64,110.76 L318.43,110.65 L319.22,110.54 L320.02,110.43 L320.81,110.31 L321.60,110.20 L322.39,110.08 L323.18,109.95 L323.96,109.83 L324.75,109.70 L325.54,109.57 L326.33,109.43 L327.11,109.29 L327.90,109.15 L328.69,109.00 L329.47,108.85 L330.25,108.70 L331.04,108.54 L331.82,108.38 L332.60,108.22 L333.38,108.05 L334.16,107.88 L334.94,107.70 L335.72,107.52 L336.50,107.34 L337.27,107.15 L338.05,106.95 L338.82,106.75 L339.59,106.55 L340.37,106.34 L341.14,106.13 L341.90,105.91 L342.67,105.68 L343.44,105.45 L344.20,105.22 L344.96,104.98 L345.72,104.73 L346.48,104.48 L347.23,104.22 L347.99,103.95 L348.74,103.68 L349.49,103.40 L350.23,103.12 L350.98,102.83 L351.72,102.53 L352.46,102.22 L353.19,101.91 L353.92,101.58 L354.65,101.25 L355.37,100.92 L356.09,100.57 L356.81,100.22 L357.52,99.86 L358.23,99.49 L358.93,99.11 L359.63,98.72 L360.32,98.32 L361.01,97.92 L361.69,97.50 L362.37,97.08 L363.04,96.64 L363.71,96.20 L364.36,95.74 L365.02,95.28 L365.66,94.81 L366.30,94.33 L366.93,93.84 L367.55,93.34 L368.17,92.83 L368.77,92.31 L369.37,91.78 L369.97,91.25 L370.55,90.70 L371.12,90.14 L371.69,89.58 L372.25,89.01 L372.79,88.43 L373.34,87.84 L373.88,87.25 L374.41,86.66 L374.94,86.06 L375.48,85.46 L376.02,84.88 L376.57,84.30 L377.13,83.72 L377.70,83.17 L378.30,82.64 L378.92,82.04 L379.55,81.43 L380.20,80.92 L380.89,80.58 L381.63,80.51 L382.44,80.59 L382.98,81.10 L383.29,81.87 L383.50,82.62 L383.66,83.42 L383.79,84.22 L383.90,85.02 L384.01,85.81 L384.10,86.61 L384.18,87.40 L384.26,88.20 L384.33,89.00 L384.39,89.79 L384.44,90.59 L384.48,91.39 L384.52,92.18 L384.55,92.98 L384.59,93.78 L384.62,94.58 L384.66,95.38 L384.71,96.18 L384.76,96.97 L384.82,97.77 L384.87,98.57 L384.94,99.37 L385.01,100.16 L385.09,100.95 L385.20,101.74 L385.33,102.53 L385.48,103.32 L385.63,104.10 L385.78,104.89 L385.92,105.67 L386.07,106.46 L386.22,107.25 L386.36,108.03 L386.48,108.82 L386.57,109.61 L386.66,110.41 L386.74,111.20 L386.80,112.00" stroke="#ffa500" stroke-width="1.4" stroke-dasharray="7.9 5.3" stroke-dashoffset="11.8"/>
<path d="M386.9,108V212.7" stroke="#ffa500" stroke-width="1.4" stroke-dasharray="10 3.4" stroke-dashoffset="1.8"/>
<path d="M86.3,7.5V212.7" stroke="#008000" stroke-width="1.5" stroke-dasharray="2.1 3.5"/>
<path d="M86.25,7.5V212.7" stroke="#ffa500" stroke-width="1.5" stroke-dasharray="10.2 2.9" stroke-dashoffset="0.1"/>
</g>
<path d="M84.90,211.7v-8.8M84.90,9.5v8.8" stroke="#000" stroke-width="0.9"/>
<path d="M97.02,211.7v-4.4M97.02,9.5v4.4" stroke="#000" stroke-width="0.75"/>
<path d="M109.14,211.7v-4.4M109.14,9.5v4.4" stroke="#000" stroke-width="0.75"/>
<path d="M121.26,211.7v-4.4M121.26,9.5v4.4" stroke="#000" stroke-width="0.75"/>
<path d="M133.38,211.7v-4.4M133.38,9.5v4.4" stroke="#000" stroke-width="0.75"/>
<path d="M145.50,211.7v-8.8M145.50,9.5v8.8" stroke="#000" stroke-width="0.9"/>
<path d="M157.62,211.7v-4.4M157.62,9.5v4.4" stroke="#000" stroke-width="0.75"/>
<path d="M169.74,211.7v-4.4M169.74,9.5v4.4" stroke="#000" stroke-width="0.75"/>
<path d="M181.86,211.7v-4.4M181.86,9.5v4.4" stroke="#000" stroke-width="0.75"/>
<path d="M193.98,211.7v-4.4M193.98,9.5v4.4" stroke="#000" stroke-width="0.75"/>
<path d="M206.10,211.7v-8.8M206.10,9.5v8.8" stroke="#000" stroke-width="0.9"/>
<path d="M218.22,211.7v-4.4M218.22,9.5v4.4" stroke="#000" stroke-width="0.75"/>
<path d="M230.34,211.7v-4.4M230.34,9.5v4.4" stroke="#000" stroke-width="0.75"/>
<path d="M242.46,211.7v-4.4M242.46,9.5v4.4" stroke="#000" stroke-width="0.75"/>
<path d="M254.58,211.7v-4.4M254.58,9.5v4.4" stroke="#000" stroke-width="0.75"/>
<path d="M266.70,211.7v-8.8M266.70,9.5v8.8" stroke="#000" stroke-width="0.9"/>
<path d="M278.82,211.7v-4.4M278.82,9.5v4.4" stroke="#000" stroke-width="0.75"/>
<path d="M290.94,211.7v-4.4M290.94,9.5v4.4" stroke="#000" stroke-width="0.75"/>
<path d="M303.06,211.7v-4.4M303.06,9.5v4.4" stroke="#000" stroke-width="0.75"/>
<path d="M315.18,211.7v-4.4M315.18,9.5v4.4" stroke="#000" stroke-width="0.75"/>
<path d="M327.30,211.7v-8.8M327.30,9.5v8.8" stroke="#000" stroke-width="0.9"/>
<path d="M339.42,211.7v-4.4M339.42,9.5v4.4" stroke="#000" stroke-width="0.75"/>
<path d="M351.54,211.7v-4.4M351.54,9.5v4.4" stroke="#000" stroke-width="0.75"/>
<path d="M363.66,211.7v-4.4M363.66,9.5v4.4" stroke="#000" stroke-width="0.75"/>
<path d="M375.78,211.7v-4.4M375.78,9.5v4.4" stroke="#000" stroke-width="0.75"/>
<path d="M387.90,211.7v-8.8M387.90,9.5v8.8" stroke="#000" stroke-width="0.9"/>
<path d="M84.9,9.50h8.8M387.9,9.50h-8.8" stroke="#000" stroke-width="0.9"/>
<path d="M84.9,14.55h4.4M387.9,14.55h-4.4" stroke="#000" stroke-width="0.75"/>
<path d="M84.9,19.61h4.4M387.9,19.61h-4.4" stroke="#000" stroke-width="0.75"/>
<path d="M84.9,24.66h4.4M387.9,24.66h-4.4" stroke="#000" stroke-width="0.75"/>
<path d="M84.9,29.72h4.4M387.9,29.72h-4.4" stroke="#000" stroke-width="0.75"/>
<path d="M84.9,34.77h8.8M387.9,34.77h-8.8" stroke="#000" stroke-width="0.9"/>
<path d="M84.9,39.83h4.4M387.9,39.83h-4.4" stroke="#000" stroke-width="0.75"/>
<path d="M84.9,44.88h4.4M387.9,44.88h-4.4" stroke="#000" stroke-width="0.75"/>
<path d="M84.9,49.94h4.4M387.9,49.94h-4.4" stroke="#000" stroke-width="0.75"/>
<path d="M84.9,54.99h4.4M387.9,54.99h-4.4" stroke="#000" stroke-width="0.75"/>
<path d="M84.9,60.05h8.8M387.9,60.05h-8.8" stroke="#000" stroke-width="0.9"/>
<path d="M84.9,65.10h4.4M387.9,65.10h-4.4" stroke="#000" stroke-width="0.75"/>
<path d="M84.9,70.16h4.4M387.9,70.16h-4.4" stroke="#000" stroke-width="0.75"/>
<path d="M84.9,75.22h4.4M387.9,75.22h-4.4" stroke="#000" stroke-width="0.75"/>
<path d="M84.9,80.27h4.4M387.9,80.27h-4.4" stroke="#000" stroke-width="0.75"/>
<path d="M84.9,85.33h8.8M387.9,85.33h-8.8" stroke="#000" stroke-width="0.9"/>
<path d="M84.9,90.38h4.4M387.9,90.38h-4.4" stroke="#000" stroke-width="0.75"/>
<path d="M84.9,95.44h4.4M387.9,95.44h-4.4" stroke="#000" stroke-width="0.75"/>
<path d="M84.9,100.49h4.4M387.9,100.49h-4.4" stroke="#000" stroke-width="0.75"/>
<path d="M84.9,105.55h4.4M387.9,105.55h-4.4" stroke="#000" stroke-width="0.75"/>
<path d="M84.9,110.60h8.8M387.9,110.60h-8.8" stroke="#000" stroke-width="0.9"/>
<path d="M84.9,115.66h4.4M387.9,115.66h-4.4" stroke="#000" stroke-width="0.75"/>
<path d="M84.9,120.71h4.4M387.9,120.71h-4.4" stroke="#000" stroke-width="0.75"/>
<path d="M84.9,125.77h4.4M387.9,125.77h-4.4" stroke="#000" stroke-width="0.75"/>
<path d="M84.9,130.82h4.4M387.9,130.82h-4.4" stroke="#000" stroke-width="0.75"/>
<path d="M84.9,135.88h8.8M387.9,135.88h-8.8" stroke="#000" stroke-width="0.9"/>
<path d="M84.9,140.93h4.4M387.9,140.93h-4.4" stroke="#000" stroke-width="0.75"/>
<path d="M84.9,145.99h4.4M387.9,145.99h-4.4" stroke="#000" stroke-width="0.75"/>
<path d="M84.9,151.04h4.4M387.9,151.04h-4.4" stroke="#000" stroke-width="0.75"/>
<path d="M84.9,156.09h4.4M387.9,156.09h-4.4" stroke="#000" stroke-width="0.75"/>
<path d="M84.9,161.15h8.8M387.9,161.15h-8.8" stroke="#000" stroke-width="0.9"/>
<path d="M84.9,166.21h4.4M387.9,166.21h-4.4" stroke="#000" stroke-width="0.75"/>
<path d="M84.9,171.26h4.4M387.9,171.26h-4.4" stroke="#000" stroke-width="0.75"/>
<path d="M84.9,176.31h4.4M387.9,176.31h-4.4" stroke="#000" stroke-width="0.75"/>
<path d="M84.9,181.37h4.4M387.9,181.37h-4.4" stroke="#000" stroke-width="0.75"/>
<path d="M84.9,186.43h8.8M387.9,186.43h-8.8" stroke="#000" stroke-width="0.9"/>
<path d="M84.9,191.48h4.4M387.9,191.48h-4.4" stroke="#000" stroke-width="0.75"/>
<path d="M84.9,196.53h4.4M387.9,196.53h-4.4" stroke="#000" stroke-width="0.75"/>
<path d="M84.9,201.59h4.4M387.9,201.59h-4.4" stroke="#000" stroke-width="0.75"/>
<path d="M84.9,206.65h4.4M387.9,206.65h-4.4" stroke="#000" stroke-width="0.75"/>
<path d="M84.9,211.70h8.8M387.9,211.70h-8.8" stroke="#000" stroke-width="0.9"/>
<rect x="84.9" y="9.5" width="303.0" height="202.2" fill="none" stroke="#000" stroke-width="0.55"/>
<g fill="none">
<path d="M107.8,34.8H137.6" stroke="#ff0000" stroke-width="1.4"/>
<path d="M107.8,54.2H137.6" stroke="#0000ff" stroke-width="1.5" stroke-dasharray="8.1 5.2"/>
<path d="M107.8,72.7H133.5" stroke="#008000" stroke-width="1.6" stroke-dasharray="2.1 3.5"/>
<path d="M221.5,34.8H251.3" stroke="#808080" stroke-width="1.4" stroke-dasharray="8 4.4 1.9 4.4"/>
<path d="M221.5,53.9H251.3" stroke="#ffa500" stroke-width="1.4" stroke-dasharray="7.9 5.4"/>
</g>
<g style="font-family:'Liberation Serif',serif;font-weight:bold" fill="#000"><text x="52.39" y="17.00" font-size="17.2" stroke="#fff" stroke-width="0.22" textLength="29.4" lengthAdjust="spacingAndGlyphs">800</text>
<text x="52.39" y="42.27" font-size="17.2" stroke="#fff" stroke-width="0.22" textLength="29.4" lengthAdjust="spacingAndGlyphs">600</text>
<text x="52.39" y="67.55" font-size="17.2" stroke="#fff" stroke-width="0.22" textLength="29.4" lengthAdjust="spacingAndGlyphs">400</text>
<text x="52.39" y="92.83" font-size="17.2" stroke="#fff" stroke-width="0.22" textLength="29.4" lengthAdjust="spacingAndGlyphs">200</text>
<text x="70.93" y="118.10" font-size="17.2" stroke="#fff" stroke-width="0.22" textLength="10.9" lengthAdjust="spacingAndGlyphs">0</text>
<text x="52.39" y="143.38" font-size="17.2" stroke="#fff" stroke-width="0.22" textLength="29.4" lengthAdjust="spacingAndGlyphs">200</text>
<text x="44.49" y="145.57" font-size="17.2" textLength="7.6" lengthAdjust="spacingAndGlyphs" stroke="#000" stroke-width="0.35">−</text>
<text x="52.39" y="168.65" font-size="17.2" stroke="#fff" stroke-width="0.22" textLength="29.4" lengthAdjust="spacingAndGlyphs">400</text>
<text x="44.49" y="170.85" font-size="17.2" textLength="7.6" lengthAdjust="spacingAndGlyphs" stroke="#000" stroke-width="0.35">−</text>
<text x="52.39" y="193.93" font-size="17.2" stroke="#fff" stroke-width="0.22" textLength="29.4" lengthAdjust="spacingAndGlyphs">600</text>
<text x="44.49" y="196.12" font-size="17.2" textLength="7.6" lengthAdjust="spacingAndGlyphs" stroke="#000" stroke-width="0.35">−</text>
<text x="52.39" y="219.20" font-size="17.2" stroke="#fff" stroke-width="0.22" textLength="29.4" lengthAdjust="spacingAndGlyphs">800</text>
<text x="44.49" y="221.40" font-size="17.2" textLength="7.6" lengthAdjust="spacingAndGlyphs" stroke="#000" stroke-width="0.35">−</text>
<text x="71.80" y="233.8" font-size="17.2" stroke="#fff" stroke-width="0.2" textLength="25.6" lengthAdjust="spacingAndGlyphs">0.0</text>
<text x="132.40" y="233.8" font-size="17.2" stroke="#fff" stroke-width="0.2" textLength="25.6" lengthAdjust="spacingAndGlyphs">0.2</text>
<text x="193.00" y="233.8" font-size="17.2" stroke="#fff" stroke-width="0.2" textLength="25.6" lengthAdjust="spacingAndGlyphs">0.4</text>
<text x="253.60" y="233.8" font-size="17.2" stroke="#fff" stroke-width="0.2" textLength="25.6" lengthAdjust="spacingAndGlyphs">0.6</text>
<text x="314.20" y="233.8" font-size="17.2" stroke="#fff" stroke-width="0.2" textLength="25.6" lengthAdjust="spacingAndGlyphs">0.8</text>
<text x="374.80" y="233.8" font-size="17.2" stroke="#fff" stroke-width="0.2" textLength="25.6" lengthAdjust="spacingAndGlyphs">1.0</text>
<g fill="none" stroke="#000" stroke-linecap="round" transform="translate(232.3,260.1)"><path d="M1.0,-6.5C1.8,-7.8 2.9,-8.0 4.3,-7.2C5.6,-6.5 6.7,-6.7 7.8,-7.8" stroke-width="1.7"/><path d="M8.2,-8.4L0,0" stroke-width="0.9"/><path d="M0.3,-0.5C1.4,-1.8 2.7,-1.8 4.1,-0.9C5.5,0 6.6,-0.2 7.3,-1.9" stroke-width="1.7"/></g>
<g transform="translate(31.3,136.4) rotate(-90)"><text x="1.2" y="0" font-size="19" font-style="italic" textLength="8.2" lengthAdjust="spacingAndGlyphs" stroke="#fff" stroke-width="0.2">I</text><text x="8.3" y="4.3" font-size="12.5" font-style="italic" textLength="10.6" lengthAdjust="spacingAndGlyphs" stroke="#fff" stroke-width="0.25">ij</text><text x="10.4" y="-9.2" font-size="12.9" font-weight="normal" stroke="#000" stroke-width="0.35">(</text><text x="15.8" y="-9.6" font-size="12" stroke="#fff" stroke-width="0.15">3</text><text x="22.6" y="-9.2" font-size="12.9" font-weight="normal" stroke="#000" stroke-width="0.35">)</text><text x="27.9" y="0" font-size="18.5" font-weight="normal" stroke="#000" stroke-width="0.3">(</text><g fill="none" stroke="#000" stroke-linecap="round" transform="translate(35.0,0.2)"><path d="M1.0,-6.5C1.8,-7.8 2.9,-8.0 4.3,-7.2C5.6,-6.5 6.7,-6.7 7.8,-7.8" stroke-width="1.7"/><path d="M8.2,-8.4L0,0" stroke-width="0.9"/><path d="M0.3,-0.5C1.4,-1.8 2.7,-1.8 4.1,-0.9C5.5,0 6.6,-0.2 7.3,-1.9" stroke-width="1.7"/></g><text x="44.8" y="0" font-size="18.5" font-weight="normal" stroke="#000" stroke-width="0.3">)</text></g>
<text x="143.9" y="39.7" font-size="14.2" font-style="italic" stroke="#fff" stroke-width="0.16" textLength="17.2" lengthAdjust="spacingAndGlyphs">qq</text>
<path d="M163.5,31.85L171.5,39.85M163.5,39.85L171.5,31.85" stroke="#000" stroke-width="1.12" fill="none"/>
<text x="175.7" y="33.6" font-size="10.8">1</text>
<rect x="175.2" y="35.05" width="6.2" height="0.75" fill="#000"/>
<text x="175.6" y="45.1" font-size="10.8">2</text>
<text x="143.9" y="59.0" font-size="14.2" font-style="italic" stroke="#fff" stroke-width="0.16" textLength="17.2" lengthAdjust="spacingAndGlyphs">qq</text>
<path d="M161.6,53.6L163.2,48.0L164.6,48.6L162.29999999999998,53.800000000000004Z" fill="#000"/>
<path d="M167.8,51.15L175.8,59.15M167.8,59.15L175.8,51.15" stroke="#000" stroke-width="1.12" fill="none"/>
<text x="178.1" y="59.0" font-size="14.8" font-weight="normal" stroke="#000" stroke-width="0.35" textLength="24.6" lengthAdjust="spacingAndGlyphs">100</text>
<text x="143.9" y="77.5" font-size="14.2" font-style="italic" stroke="#fff" stroke-width="0.16" textLength="17.2" lengthAdjust="spacingAndGlyphs">qq</text>
<rect x="154.6" y="67.25" width="5.700000000000017" height="0.9" fill="#000"/>
<path d="M162.9,69.65L170.9,77.65M162.9,77.65L170.9,69.65" stroke="#000" stroke-width="1.12" fill="none"/>
<text x="172.9" y="77.5" font-size="14.8" font-weight="normal" stroke="#000" stroke-width="0.35" textLength="24.9" lengthAdjust="spacingAndGlyphs">100</text>
<text x="257.2" y="39.8" font-size="14.2" font-style="italic" stroke="#fff" stroke-width="0.16" textLength="17.2" lengthAdjust="spacingAndGlyphs">qq</text>
<rect x="268.4" y="29.95" width="5.5" height="0.9" fill="#000"/>
<path d="M274.9,35.0L276.5,29.4L277.9,30.0L275.59999999999997,35.2Z" fill="#000"/>
<path d="M281.1,31.949999999999996L289.1,39.949999999999996M281.1,39.949999999999996L289.1,31.949999999999996" stroke="#000" stroke-width="1.12" fill="none"/>
<text x="291.4" y="39.8" font-size="14.8" font-weight="normal" stroke="#000" stroke-width="0.35" textLength="25.1" lengthAdjust="spacingAndGlyphs">100</text>
<text x="257.2" y="59.2" font-size="14.2" font-style="italic" stroke="#fff" stroke-width="0.16" textLength="17.6" lengthAdjust="spacingAndGlyphs">qg</text>
<path d="M277.5,51.35L285.5,59.35M277.5,59.35L285.5,51.35" stroke="#000" stroke-width="1.12" fill="none"/>
<text x="288.2" y="59.2" font-size="14.8" font-weight="normal" stroke="#000" stroke-width="0.35" textLength="8.1" lengthAdjust="spacingAndGlyphs">2</text></g>
</svg></body></html>
